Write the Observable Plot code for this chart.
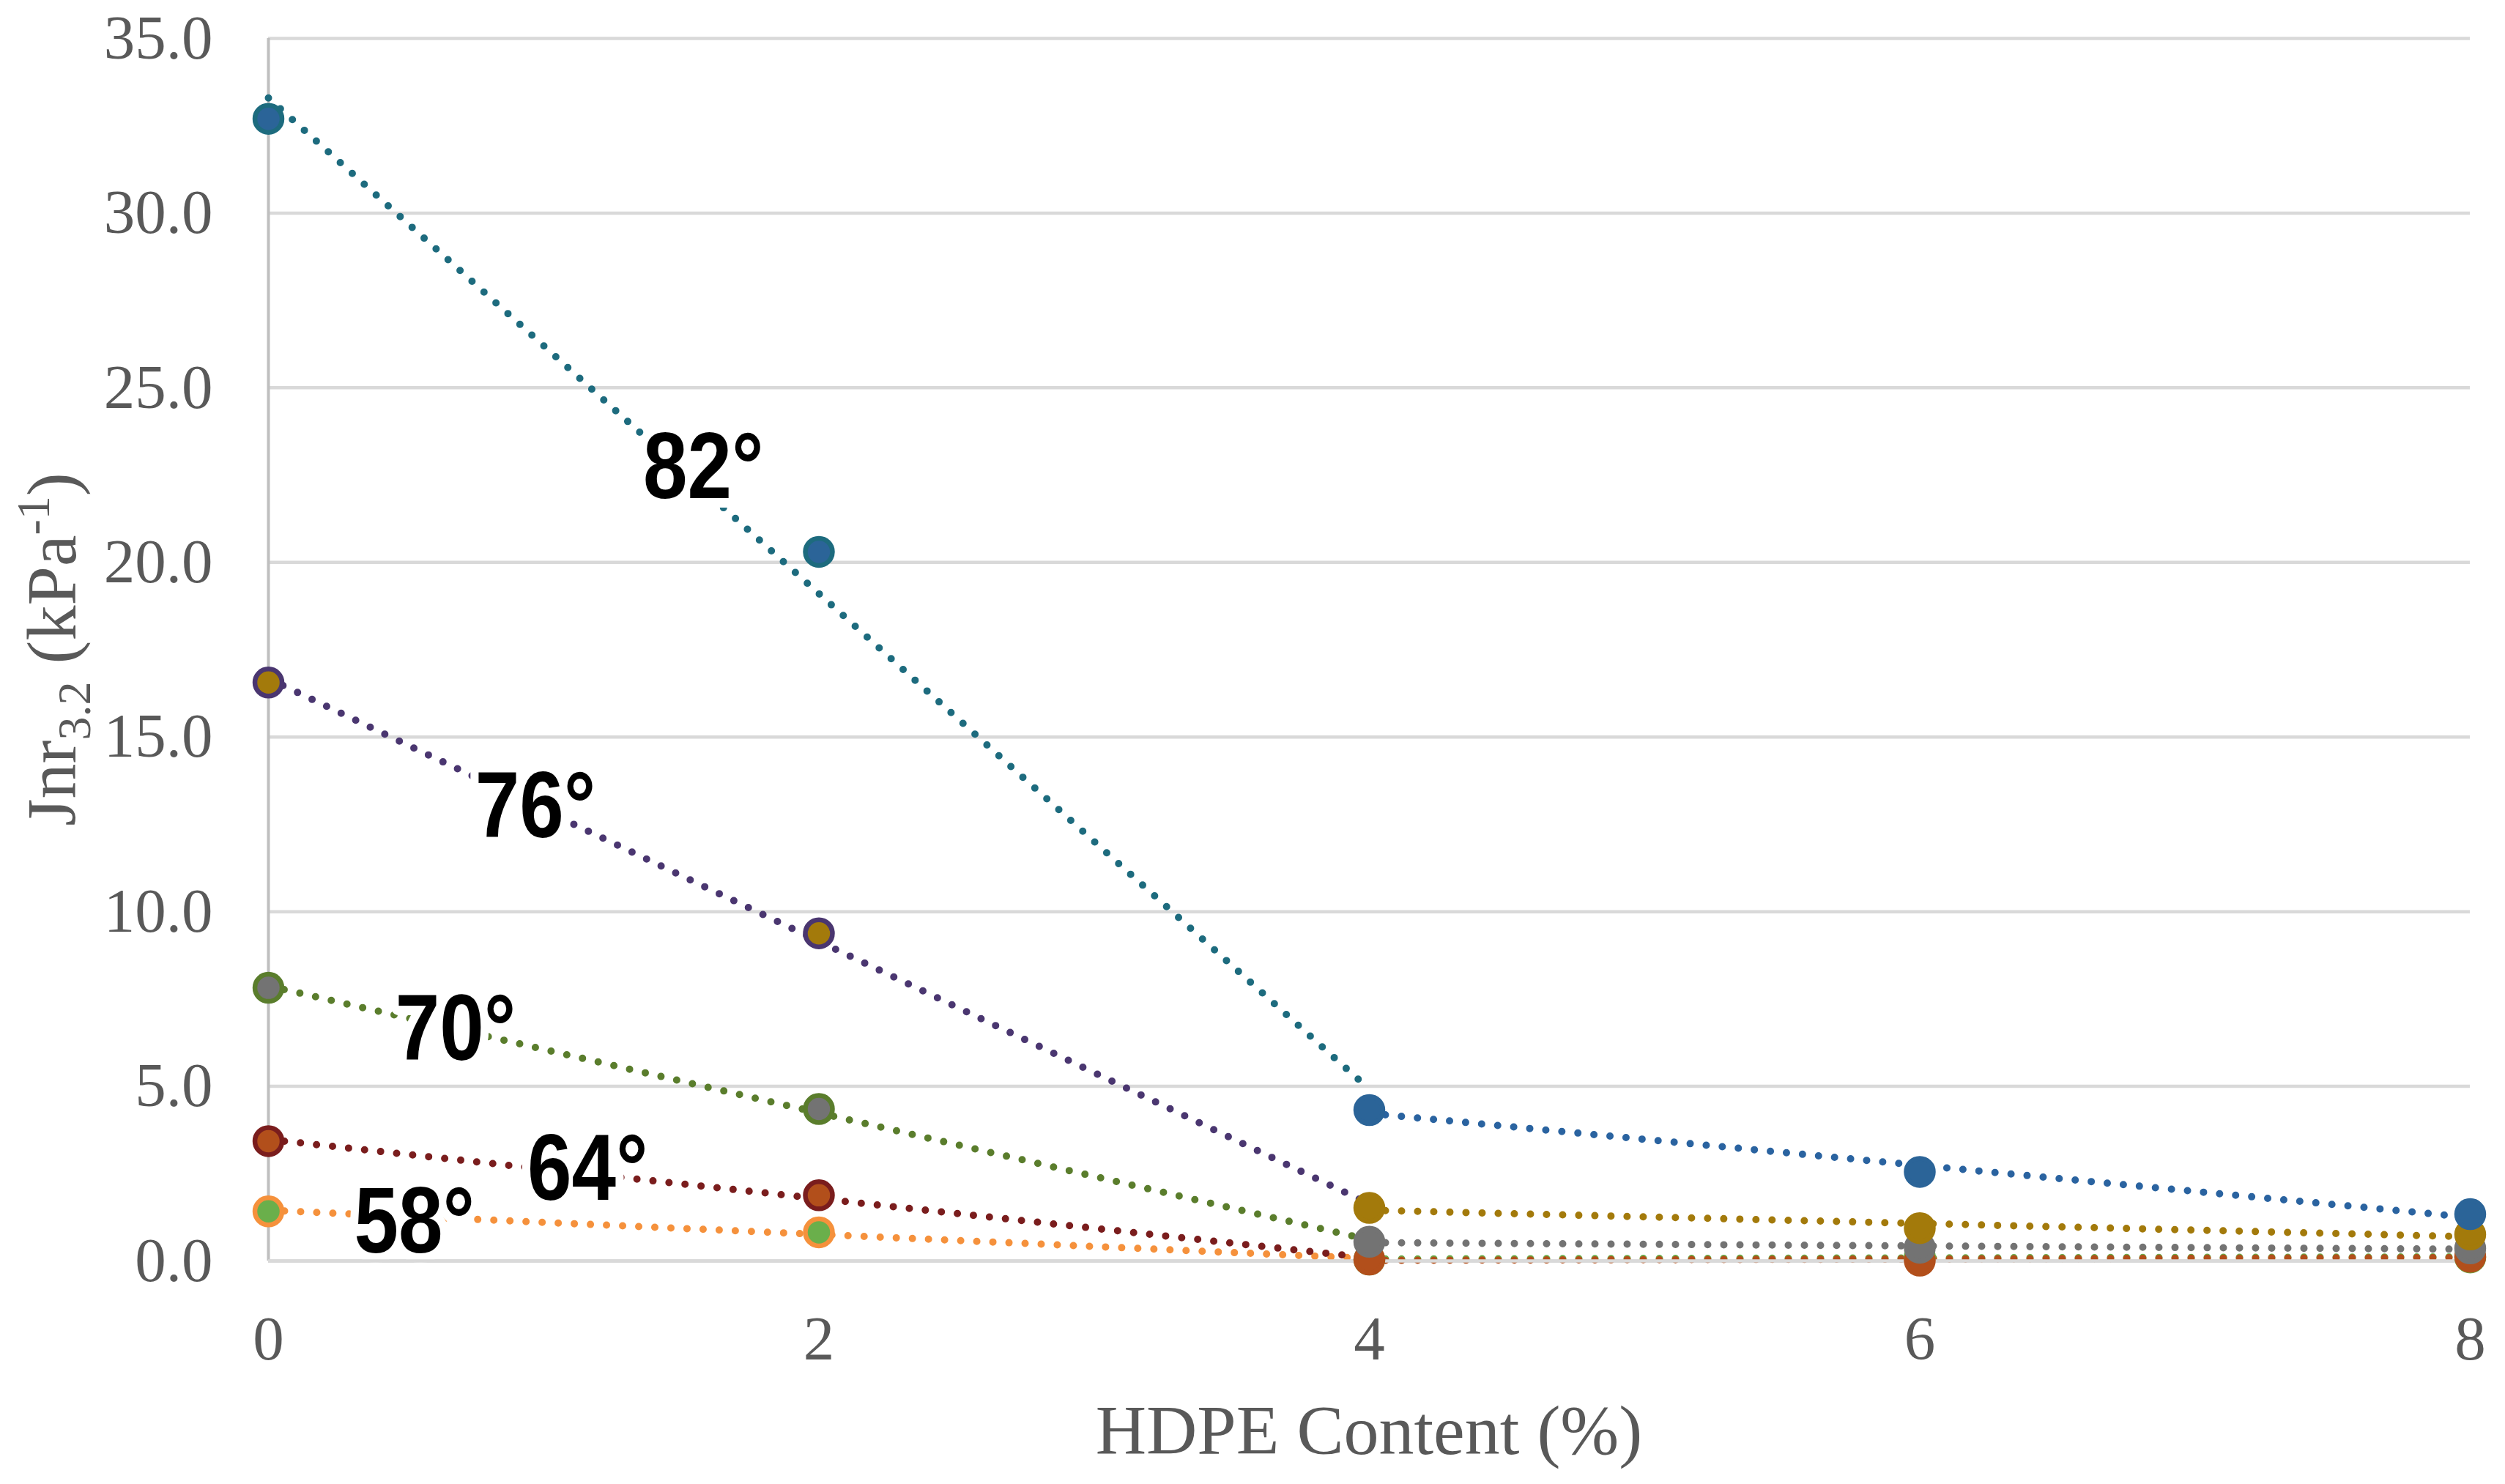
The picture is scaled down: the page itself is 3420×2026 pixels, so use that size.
<!DOCTYPE html>
<html>
<head>
<meta charset="utf-8">
<script src="https://cdn.jsdelivr.net/npm/d3@7"></script>
<script src="https://cdn.jsdelivr.net/npm/@observablehq/plot@0.6"></script>
<style>
  html, body { margin: 0; padding: 0; background: #ffffff; }
</style>
</head>
<body>
<div id="chart"></div>
<script>
// ---- data ----
const hdpe = [0, 2, 4, 6, 8];                 // HDPE content (%)
const temps = ["82°", "76°", "70°", "64°", "58°"];
const jnr82 = [32.7, 20.3, 4.32, 2.55, 1.34];
const jnr76 = [16.56, 9.38, 1.52, 0.94, 0.76];
const jnr70 = [7.82, 4.35, 0.55, 0.38, 0.36];
const jnr64 = [3.43, 1.88, 0.04, 0.01, 0.12];
const jnr58 = [1.42, 0.82, 0.04, 0.12, 0.1];
const xTicks = [0, 2, 4, 6, 8];
const yTicks = [0, 5, 10, 15, 20, 25, 30, 35];
// temperature annotations (data units)
const labelHdpe = [1.58, 0.97, 0.68, 1.16, 0.53];
const labelJnr = [22.7, 13.0, 6.62, 2.62, 1.1];

// ---- styles ----
const fillColors = ["#2b6498", "#a37a0b", "#737373", "#b24f1b", "#6aaf4b"];
const edgeColors = ["#1d6b7e", "#4a3670", "#5a7d2c", "#7a1d1d", "#f5913c"];
const tailColors = ["#2a63a0", "#a37a0b", "#737373", "#b24f1b", "#6aaf4b"];

const values = [jnr82, jnr76, jnr70, jnr64, jnr58];
const drawOrder = [4, 3, 2, 1, 0];

const dotted = { strokeWidth: 10, strokeDasharray: "0 22", strokeLinecap: "round", ci: 0 };

const rowsOf = i => hdpe.map((x, j) => ({ x, y: values[i][j], temp: temps[i] }));

const lineMarks = drawOrder.flatMap(i => {
  const rows = rowsOf(i);
  return [
    Plot.linearRegressionY(rows.slice(0, 3), { x: "x", y: "y", stroke: edgeColors[i], ...dotted }),  // 0–4 %
    Plot.linearRegressionY(rows.slice(2), { x: "x", y: "y", stroke: tailColors[i], ...dotted })      // 4–8 %
  ];
});

const dotMarks = drawOrder.flatMap(i => {
  const rows = rowsOf(i);
  return [
    Plot.dot(rows.slice(0, 2), { x: "x", y: "y", r: 18.5, fill: fillColors[i], stroke: edgeColors[i], strokeWidth: 6.5 }),
    Plot.dot(rows.slice(2), { x: "x", y: "y", r: 18.5, fill: fillColors[i], stroke: fillColors[i], strokeWidth: 6.5 })
  ];
});

const labelRows = temps.map((t, i) => ({ t, x: labelHdpe[i], y: labelJnr[i] }));
const labelStyle = {
  x: "x", y: "y", text: "t",
  fontSize: 128, fontWeight: "bold",
  fontFamily: '"Liberation Sans", Arial, sans-serif',
  textAnchor: "middle", lineAnchor: "middle"
};

const chart = Plot.plot({
  width: 3420,
  height: 2026,
  marginLeft: 366,
  marginRight: 48,
  marginTop: 52,
  marginBottom: 305,
  style: {
    fontFamily: '"Liberation Serif", "DejaVu Serif", serif',
    fontSize: "85px",
    color: "#595959",
    background: "#ffffff",
    overflow: "visible"
  },
  x: { domain: [0, 8], ticks: xTicks, tickSize: 0, tickPadding: 74, label: null },
  y: { domain: [0, 35], ticks: yTicks, tickSize: 0, tickPadding: 76, tickFormat: d3.format(".1f"), label: null },
  marks: [
    Plot.ruleY(yTicks, { stroke: "#d9d9d9", strokeWidth: 4.5 }),
    Plot.ruleX([0], { stroke: "#bfbfbf", strokeWidth: 4 }),
    // white knock-out behind the temperature labels (cuts the dotted lines)
    ...lineMarks,
    Plot.text(labelRows, { ...labelStyle, fill: "none", stroke: "#ffffff", strokeWidth: 26, strokeLinejoin: "round" }),
    ...dotMarks,
    Plot.text(labelRows, { ...labelStyle, fill: "#000000" })
  ]
});

document.getElementById("chart").appendChild(chart);

const svg = d3.select(chart);

// narrow (condensed) look for the temperature labels
svg.selectAll('g[aria-label="text"] text').each(function () {
  const t = d3.select(this);
  const tr = t.attr("transform");
  if (tr) {
    t.attr("transform", tr + " scale(0.85,1)");
  } else {
    const x = +t.attr("x") || 0, y = +t.attr("y") || 0;
    t.attr("transform", `translate(${x},${y}) scale(0.85,1) translate(${-x},${-y})`);
  }
});

// keep the baseline gridline unbroken under the label knock-out:
// move the y=0 grid rule just above the knock-out group
const knockout = svg.selectAll('g[aria-label="text"]').nodes()[0];
const ruleGroups = svg.selectAll('g[aria-label="rule"]').nodes();
if (knockout && ruleGroups.length) {
  const base = ruleGroups[0].cloneNode(true);
  // keep only the y = 0 line in the clone
  const lines = Array.from(base.querySelectorAll("line"));
  const yVals = lines.map(l => +l.getAttribute("y1") || 0);
  const maxY = Math.max(...yVals);
  lines.forEach((l, k) => { if (yVals[k] !== maxY) l.remove(); });
  knockout.parentNode.insertBefore(base, knockout.nextSibling);
}

// axis titles (with sub/superscript for the y title)
const xs = chart.scale("x"), ys = chart.scale("y");
const titleFont = '"Liberation Serif", "DejaVu Serif", serif';

svg.append("text")
  .attr("x", (xs.range[0] + xs.range[1]) / 2)
  .attr("y", ys.range[0] + 264)
  .attr("text-anchor", "middle")
  .attr("font-family", titleFont)
  .attr("font-size", 96)
  .attr("fill", "#595959")
  .text("HDPE Content (%)");

const yt = svg.append("text")
  .attr("transform", `translate(103,${(ys.range[0] + ys.range[1]) / 2}) rotate(-90)`)
  .attr("text-anchor", "middle")
  .attr("font-family", titleFont)
  .attr("font-size", 96)
  .attr("fill", "#595959");
yt.append("tspan").text("Jnr");
yt.append("tspan").attr("font-size", 64).attr("dy", 20).text("3.2");
yt.append("tspan").attr("dy", -20).text(" (kPa");
yt.append("tspan").attr("font-size", 64).attr("dy", -36).text("-1");
yt.append("tspan").attr("dy", 36).text(")");
</script>
</body>
</html>
